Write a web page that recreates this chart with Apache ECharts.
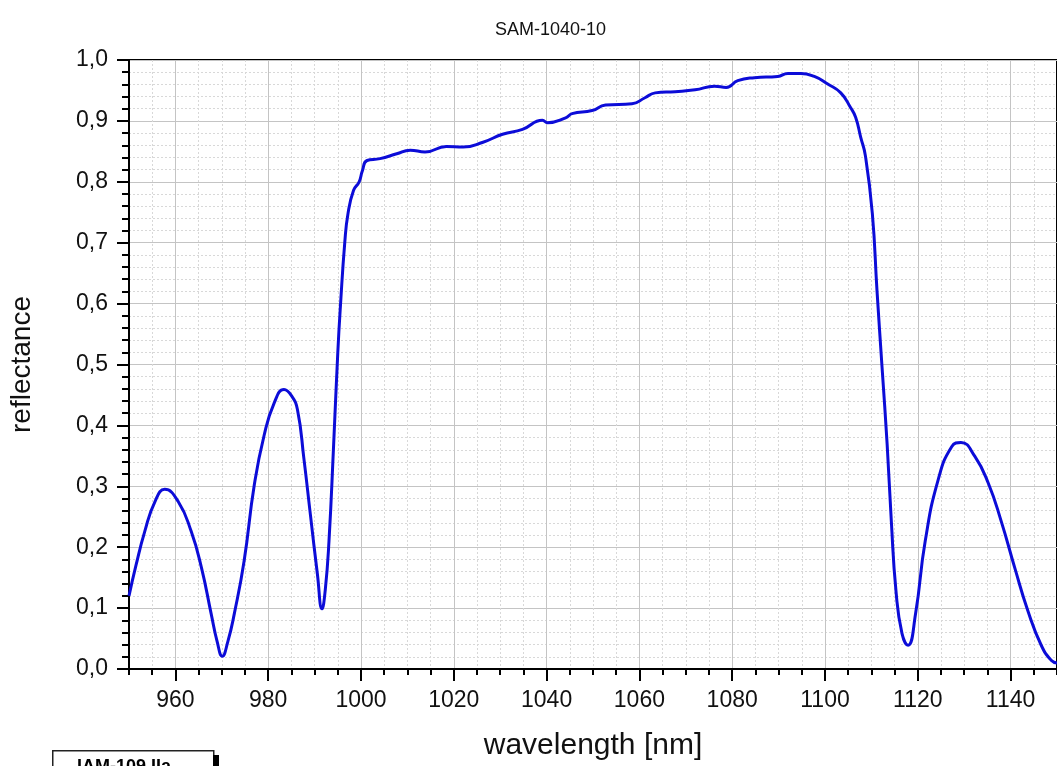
<!DOCTYPE html>
<html>
<head>
<meta charset="utf-8">
<script src="https://cdn.jsdelivr.net/npm/echarts@6/dist/echarts.min.js"></script>
<style>html,body{margin:0;padding:0;background:#fff}#c{width:1057px;height:766px}</style>
</head>
<body>
<div id="c"></div>
<script>
const titleText = 'SAM-1040-10';
const xName = 'wavelength [nm]';
const yName = 'reflectance';
const stampText = 'IAM-109 IIa';
const xMajorTicks = [960, 980, 1000, 1020, 1040, 1060, 1080, 1100, 1120, 1140];
const wavelength = [950.0,951.5,953.4,955.6,957.7,960.6,963.4,965.6,967.7,969.0,970.1,971.3,972.7,974.8,977.0,979.1,981.3,983.4,985.0,986.3,987.7,989.1,990.6,991.6,992.3,993.1,994.1,995.0,995.6,996.5,997.2,998.4,999.6,1000.3,1001.3,1004.1,1007.7,1010.6,1013.8,1018.4,1022.0,1026.3,1030.5,1034.8,1039.1,1040.2,1044.1,1045.5,1049.8,1052.7,1058.4,1061.2,1063.4,1067.7,1072.0,1076.2,1078.7,1081.2,1084.8,1089.8,1092.0,1094.8,1097.7,1100.5,1103.4,1105.5,1106.6,1107.7,1108.7,1110.2,1111.2,1112.3,1113.4,1114.3,1115.3,1116.6,1117.9,1119.5,1121.6,1124.4,1127.3,1129.3,1132.3,1135.2,1138.0,1140.9,1143.7,1146.6,1148.8,1150.0];
const reflectance = [0.120,0.170,0.226,0.275,0.295,0.275,0.226,0.167,0.091,0.045,0.021,0.045,0.091,0.177,0.302,0.383,0.437,0.459,0.449,0.426,0.345,0.253,0.156,0.099,0.130,0.210,0.368,0.520,0.600,0.700,0.748,0.786,0.800,0.818,0.835,0.838,0.846,0.852,0.849,0.858,0.857,0.865,0.878,0.886,0.901,0.897,0.905,0.912,0.917,0.926,0.928,0.938,0.946,0.948,0.951,0.957,0.955,0.966,0.971,0.973,0.978,0.978,0.973,0.961,0.946,0.922,0.906,0.873,0.843,0.748,0.622,0.495,0.368,0.242,0.128,0.058,0.039,0.090,0.210,0.311,0.365,0.372,0.349,0.305,0.242,0.166,0.096,0.039,0.014,0.010];

const FONT = "'Liberation Sans', Arial, sans-serif";
const chart = echarts.init(document.getElementById('c'), null, {renderer: 'canvas'});
const data = wavelength.map((w, i) => [w, reflectance[i]]);

chart.setOption({
  animation: false,
  backgroundColor: '#fff',
  title: {
    text: titleText, left: 490, top: 16,
    textStyle: {fontFamily: FONT, fontSize: 18, fontWeight: 'normal', color: '#111'}
  },
  grid: {
    left: 129, right: -6, top: 60, bottom: 90,
    show: true, borderColor: '#000', borderWidth: 2, backgroundColor: 'transparent'
  },
  xAxis: [
    {
      type: 'value', min: 950, max: 1150, interval: 5,
      axisLine: {show: true, lineStyle: {color: '#000', width: 2}},
      axisTick: {show: true, length: 6, lineStyle: {color: '#000', width: 2}},
      axisLabel: {show: false},
      splitLine: {show: true, lineStyle: {color: '#d8d8d8', width: 1, type: [2, 2]}}
    },
    {
      type: 'value', min: 950, max: 1150, position: 'bottom',
      axisLine: {show: false},
      axisTick: {show: true, customValues: xMajorTicks, length: 12, lineStyle: {color: '#000', width: 2}},
      axisLabel: {show: true, customValues: xMajorTicks, margin: 20, fontFamily: FONT, fontSize: 23, color: '#111',
        formatter: v => String(v)},
      splitLine: {show: true, lineStyle: {color: '#c4c4c4', width: 1}},
      name: xName, nameLocation: 'middle', nameGap: 62,
      nameTextStyle: {fontFamily: FONT, fontSize: 30, color: '#111', verticalAlign: 'top'}
    }
  ],
  yAxis: {
    type: 'value', min: 0, max: 1, interval: 0.1,
    axisLine: {show: true, lineStyle: {color: '#000', width: 2}},
    axisTick: {show: true, length: 12, lineStyle: {color: '#000', width: 2}},
    minorTick: {show: true, splitNumber: 5, length: 7, lineStyle: {color: '#000', width: 2}},
    axisLabel: {margin: 21, fontFamily: FONT, fontSize: 23, color: '#111',
      formatter: v => v.toFixed(1).replace('.', ',')},
    splitLine: {show: true, lineStyle: {color: '#c4c4c4', width: 1}},
    minorSplitLine: {show: true, lineStyle: {color: '#d8d8d8', width: 1, type: [2, 2]}},
    name: yName, nameLocation: 'middle', nameGap: 93, nameRotate: 90,
    nameTextStyle: {fontFamily: FONT, fontSize: 28, color: '#111'}
  },
  series: [{
    type: 'line', xAxisIndex: 0, data: data,
    showSymbol: false, smooth: 0.5,
    lineStyle: {color: '#0c0cd8', width: 3},
    clip: true
  }],
  graphic: [
    {type: 'rect', left: 52, top: 750, shape: {width: 161, height: 30},
     style: {fill: '#fff', stroke: '#222', lineWidth: 1.5}},
    {type: 'rect', left: 213, top: 755, shape: {width: 6, height: 25}, style: {fill: '#000'}},
    {type: 'text', left: 77, top: 758,
     style: {text: stampText, font: "bold 18px 'Liberation Sans', Arial, sans-serif", fill: '#000'}}
  ]
});
</script>
</body>
</html>
